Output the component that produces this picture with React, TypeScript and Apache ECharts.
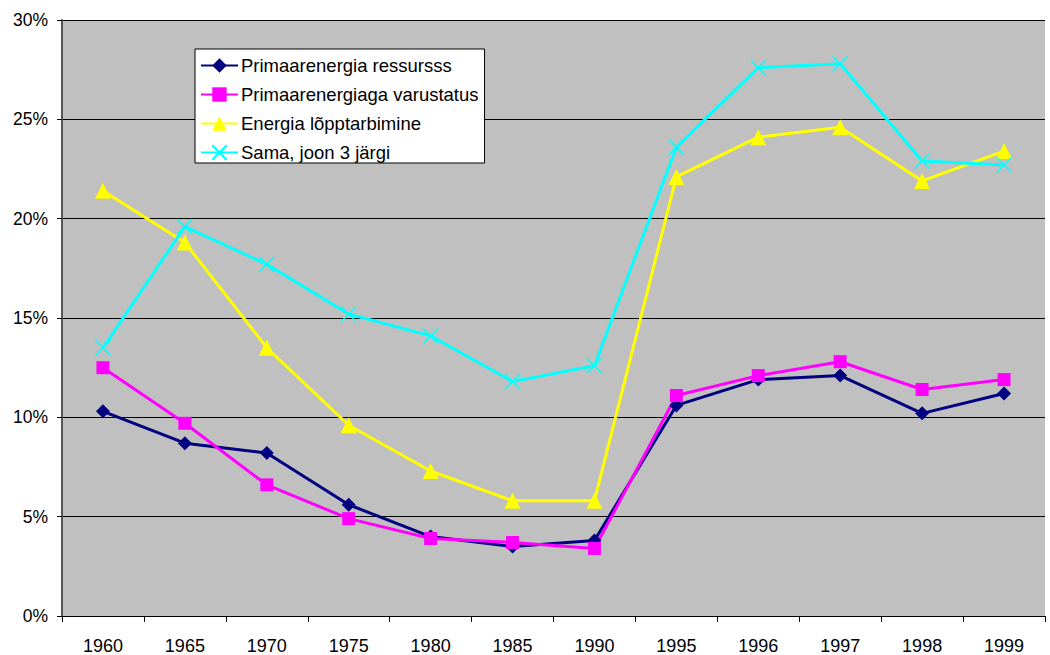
import React, { useEffect, useRef } from "react";
import * as echarts from "echarts";

const categories = ["1960", "1965", "1970", "1975", "1980", "1985", "1990", "1995", "1996", "1997", "1998", "1999"];
const primaarResurss = [10.3, 8.7, 8.2, 5.6, 4.0, 3.5, 3.8, 10.6, 11.9, 12.1, 10.2, 11.2];
const primaarVarustatus = [12.5, 9.7, 6.6, 4.9, 3.9, 3.7, 3.4, 11.1, 12.1, 12.8, 11.4, 11.9];
const loppTarbimine = [21.4, 18.8, 13.5, 9.6, 7.3, 5.8, 5.8, 22.1, 24.1, 24.6, 21.9, 23.4];
const samaJoon3 = [13.5, 19.6, 17.7, 15.2, 14.1, 11.8, 12.6, 23.6, 27.6, 27.8, 22.9, 22.7];
const seriesNames = [
  "Primaarenergia ressursss",
  "Primaarenergiaga varustatus",
  "Energia lõpptarbimine",
  "Sama, joon 3 järgi",
];

export default function App() {
  const ref = useRef<HTMLDivElement>(null);
  useEffect(() => {
    document.body.style.margin = "0";
    const chart = echarts.init(ref.current!, null, { renderer: "svg" });
    const font = "'Liberation Sans', Arial, sans-serif";
    const mk = (name: string, data: number[], color: string, symbol: string, size: number) => ({
      name,
      type: "line",
      data,
      symbol,
      symbolSize: size,
      showSymbol: true,
      lineStyle: { color, width: 3 },
      itemStyle: { color },
    });
    chart.setOption({
      animation: false,
      backgroundColor: "#ffffff",
      textStyle: { fontFamily: font },
      grid: {
        left: 62,
        right: 5,
        top: 20,
        bottom: 38,
        show: true,
        backgroundColor: "#c0c0c0",
        borderWidth: 0,
      },
      legend: {
        orient: "vertical",
        left: 195,
        top: 49,
        backgroundColor: "#ffffff",
        borderColor: "#000000",
        borderWidth: 1,
        padding: [7, 6, 1, 5],
        itemGap: 10,
        itemWidth: 37,
        itemHeight: 18,
        textStyle: { fontFamily: font, fontSize: 18.5, color: "#000", padding: [0, 0, 0, -2] },
        data: seriesNames,
      },
      xAxis: {
        type: "category",
        data: categories,
        boundaryGap: true,
        axisLine: { lineStyle: { color: "#000", width: 1 } },
        axisTick: { show: true, length: 6, lineStyle: { color: "#000" } },
        axisLabel: { fontFamily: font, fontSize: 18, color: "#000", margin: 21 },
      },
      yAxis: {
        type: "value",
        min: 0,
        max: 30,
        interval: 5,
        axisLine: { show: true, lineStyle: { color: "#555", width: 2 } },
        axisTick: { show: true, length: 5, lineStyle: { color: "#000" } },
        axisLabel: { fontFamily: font, fontSize: 17.5, color: "#000", margin: 14, formatter: "{value}%" },
        splitLine: { show: true, lineStyle: { color: "#000", width: 1 } },
      },
      series: [
        mk(seriesNames[0], primaarResurss, "#000080", "diamond", 14),
        mk(seriesNames[1], primaarVarustatus, "#ff00ff", "rect", 13),
        mk(seriesNames[2], loppTarbimine, "#ffff00", "triangle", 16),
        {
          name: seriesNames[3],
          type: "line",
          data: samaJoon3,
          symbol: "path://M0,0L10,10M10,0L0,10",
          symbolSize: 15,
          showSymbol: true,
          lineStyle: { color: "#00ffff", width: 3 },
          itemStyle: { color: "#00ffff", borderColor: "#00ffff", borderWidth: 1.5 },
        },
      ],
    });
    return () => chart.dispose();
  }, []);
  return <div ref={ref} style={{ width: 1050, height: 655 }} />;
}
